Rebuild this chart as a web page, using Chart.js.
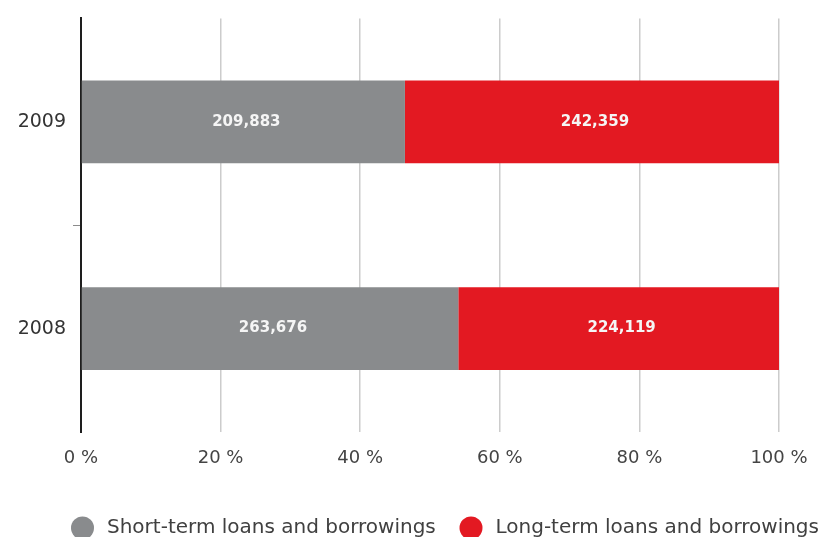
<!DOCTYPE html>
<html>
<head>
<meta charset="utf-8">
<script src="https://cdn.jsdelivr.net/npm/chart.js@4"></script>
<style>
  html, body { margin: 0; padding: 0; background: #ffffff; }
  #wrap { width: 824px; height: 537px; }
</style>
</head>
<body>
<div id="wrap"><canvas id="chart" width="824" height="537"></canvas></div>
<script>
// Loans and borrowings by maturity, per year
const years = ['2009', '2008'];
const shortTerm = [209883, 263676];
const longTerm = [242359, 224119];
const seriesNames = ['Short-term loans and borrowings', 'Long-term loans and borrowings'];
const percentTicks = [0, 20, 40, 60, 80, 100];

const totals = years.map((_, i) => shortTerm[i] + longTerm[i]);
const shareOf = values => values.map((v, i) => v / totals[i] * 100);
const formatAmount = v => v.toLocaleString('en-US');

const FONT = '"DejaVu Sans", Lato, sans-serif';
const GREY = '#898b8d';
const RED = '#e31922';

// Amount written in the middle of each bar segment
const segmentLabels = {
  id: 'segmentLabels',
  afterDatasetsDraw(chart) {
    const ctx = chart.ctx;
    ctx.save();
    ctx.font = 'bold 15px ' + FONT;
    ctx.fillStyle = '#f5f5f5';
    ctx.textAlign = 'center';
    ctx.textBaseline = 'middle';
    chart.data.datasets.forEach((ds, di) => {
      chart.getDatasetMeta(di).data.forEach((bar, i) => {
        const p = bar.getProps(['x', 'y', 'base'], true);
        ctx.fillText(formatAmount(ds.amounts[i]), (p.x + p.base) / 2 + 3, p.y);
      });
    });
    ctx.restore();
  }
};

// Row of round swatches with series names under the axis
const swatchLegend = {
  id: 'swatchLegend',
  afterDraw(chart) {
    const ctx = chart.ctx;
    const centers = [82.5, 471];
    const cy = 528;
    ctx.save();
    ctx.font = '20px ' + FONT;
    ctx.textAlign = 'left';
    ctx.textBaseline = 'middle';
    chart.data.datasets.forEach((ds, i) => {
      const cx = centers[i];
      ctx.beginPath();
      ctx.arc(cx, cy, 11.5, 0, Math.PI * 2);
      ctx.fillStyle = ds.backgroundColor;
      ctx.fill();
      ctx.fillStyle = '#404040';
      ctx.fillText(ds.label, cx + 24.5, cy);
    });
    ctx.restore();
  }
};

new Chart(document.getElementById('chart'), {
  type: 'bar',
  data: {
    labels: years,
    datasets: [
      { label: seriesNames[0], data: shareOf(shortTerm), amounts: shortTerm, backgroundColor: GREY },
      { label: seriesNames[1], data: shareOf(longTerm), amounts: longTerm, backgroundColor: RED }
    ]
  },
  options: {
    indexAxis: 'y',
    responsive: false,
    animation: false,
    devicePixelRatio: 1,
    layout: { padding: { top: 16, right: 45, bottom: 0, left: 0 } },
    datasets: { bar: { categoryPercentage: 1, barPercentage: 0.4, borderWidth: 0 } },
    plugins: { legend: { display: false }, tooltip: { enabled: false } },
    scales: {
      x: {
        stacked: true,
        min: 0,
        max: 100,
        afterFit: s => { s.height = 105; },
        afterBuildTicks: s => { s.ticks = percentTicks.map(v => ({ value: v })); },
        ticks: {
          color: '#444444',
          font: { family: FONT, size: 18 },
          padding: 16,
          callback: v => v + ' %'
        },
        grid: { color: '#cccccc', lineWidth: 1.5, drawTicks: false },
        border: { display: false }
      },
      y: {
        stacked: true,
        afterFit: s => { s.width = 81; },
        ticks: {
          color: '#333333',
          font: { family: FONT, size: 19 },
          padding: 7
        },
        grid: {
          drawOnChartArea: false,
          tickLength: 8,
          color: c => (c.index === 1 ? '#8c8c8c' : 'rgba(0,0,0,0)')
        },
        border: { color: '#1e1e1e', width: 2 }
      }
    }
  },
  plugins: [segmentLabels, swatchLegend]
});
</script>
</body>
</html>
